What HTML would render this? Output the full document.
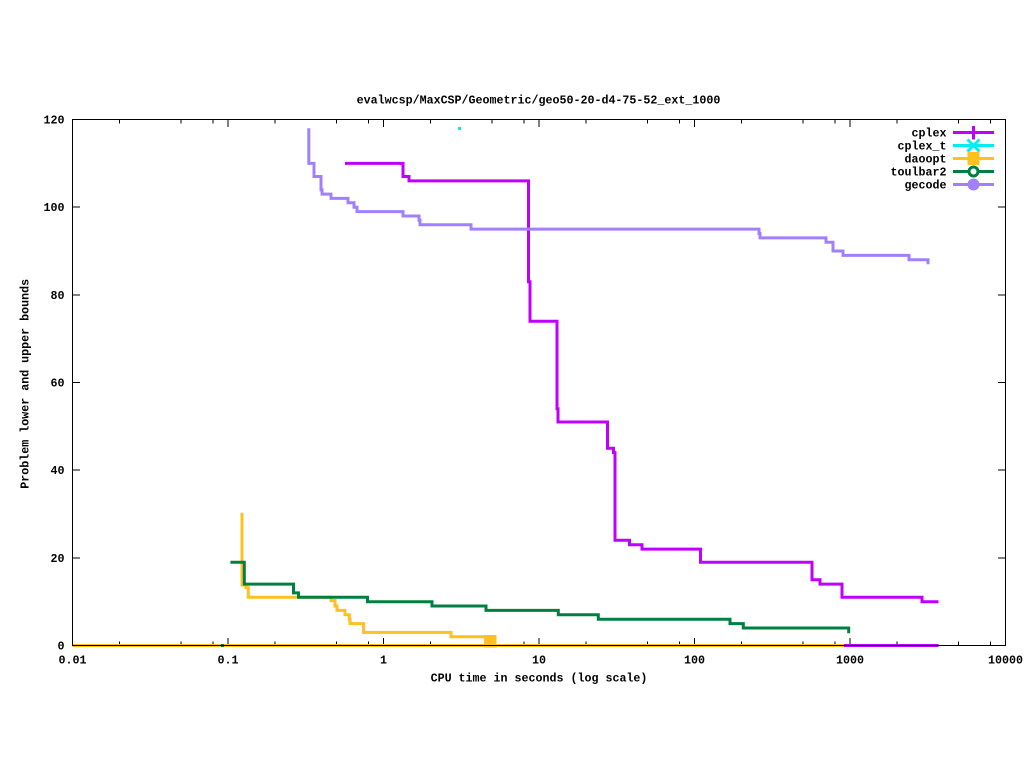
<!DOCTYPE html>
<html>
<head>
<meta charset="utf-8">
<style>
html,body{margin:0;padding:0;background:#fff;}
svg{display:block;}
text{font-family:"Liberation Mono","DejaVu Sans Mono",monospace;font-weight:bold;font-size:11.67px;fill:#000;}
</style>
</head>
<body>
<svg width="1024" height="768" viewBox="0 0 1024 768" xmlns="http://www.w3.org/2000/svg">
<rect x="0" y="0" width="1024" height="768" fill="#fff"/>

<!-- title -->
<text x="538.5" y="103.5" text-anchor="middle">evalwcsp/MaxCSP/Geometric/geo50-20-d4-75-52_ext_1000</text>

<!-- axes labels -->
<text x="539" y="681.5" text-anchor="middle">CPU time in seconds (log scale)</text>
<text transform="translate(28.5,383.8) rotate(-90)" x="0" y="0" text-anchor="middle">Problem lower and upper bounds</text>

<!-- y tick labels -->
<g text-anchor="end">
<text x="64.5" y="649.5">0</text>
<text x="64.5" y="561.8">20</text>
<text x="64.5" y="474.2">40</text>
<text x="64.5" y="386.5">60</text>
<text x="64.5" y="298.9">80</text>
<text x="64.5" y="211.2">100</text>
<text x="64.5" y="123.5">120</text>
</g>

<!-- x tick labels -->
<g text-anchor="middle">
<text x="72.5" y="663.5">0.01</text>
<text x="228" y="663.5">0.1</text>
<text x="383.5" y="663.5">1</text>
<text x="539" y="663.5">10</text>
<text x="694.5" y="663.5">100</text>
<text x="850" y="663.5">1000</text>
<text x="1005.5" y="663.5">10000</text>
</g>

<!-- ticks -->
<g stroke="#000" stroke-width="1" shape-rendering="crispEdges" fill="none">
<!-- y major left/right -->
<path d="M72.5,645.5h7.5M72.5,557.8h7.5M72.5,470.2h7.5M72.5,382.5h7.5M72.5,294.9h7.5M72.5,207.2h7.5M72.5,119.5h7.5"/>
<path d="M1005.5,645.5h-7.5M1005.5,557.8h-7.5M1005.5,470.2h-7.5M1005.5,382.5h-7.5M1005.5,294.9h-7.5M1005.5,207.2h-7.5M1005.5,119.5h-7.5"/>
<!-- x major bottom/top -->
<path d="M72.5,645.5v-7.5M228,645.5v-7.5M383.5,645.5v-7.5M539,645.5v-7.5M694.5,645.5v-7.5M850,645.5v-7.5M1005.5,645.5v-7.5"/>
<path d="M72.5,119.5v7.5M228,119.5v7.5M383.5,119.5v7.5M539,119.5v7.5M694.5,119.5v7.5M850,119.5v7.5M1005.5,119.5v7.5"/>
<!-- x minor (2,5,8) bottom -->
<path d="M119.3,645.5v-4M181.2,645.5v-4M212.9,645.5v-4
M274.8,645.5v-4M336.7,645.5v-4M368.4,645.5v-4
M430.3,645.5v-4M492.2,645.5v-4M523.9,645.5v-4
M585.8,645.5v-4M647.7,645.5v-4M679.4,645.5v-4
M741.3,645.5v-4M803.2,645.5v-4M834.9,645.5v-4
M896.8,645.5v-4M958.7,645.5v-4M990.4,645.5v-4"/>
<!-- x minor top -->
<path d="M119.3,119.5v4M181.2,119.5v4M212.9,119.5v4
M274.8,119.5v4M336.7,119.5v4M368.4,119.5v4
M430.3,119.5v4M492.2,119.5v4M523.9,119.5v4
M585.8,119.5v4M647.7,119.5v4M679.4,119.5v4
M741.3,119.5v4M803.2,119.5v4M834.9,119.5v4
M896.8,119.5v4M958.7,119.5v4M990.4,119.5v4"/>
</g>

<!-- series -->
<g fill="none" stroke-width="3" stroke-linejoin="miter" stroke-linecap="butt">
<!-- cplex -->
<path stroke="#c000ff" d="M345,163.4H403V176.5H409V180.9H528.5V281.7H530V321.2H557V408.8H558V422H607.5V448.3H613.5V452.6H615V540.3H629.5V544.7H642V549.1H700.5V562.2H812V579.8H820V584.1H842V597.3H922V601.7H938.5"/>
<!-- cplex_t point -->
<rect x="458" y="127" width="3" height="3" fill="#00eeee" stroke="none"/>
<!-- daoopt -->
<path stroke="#ffc020" d="M242,512.7V585H246V587.5H248.3V597.3H331V600.5H335V606H337V610.4H345V614.8H349.3V619.2H350V623.6H363.5V632.4H451V636.7H490V641"/>
<path stroke="#ffc020" d="M72.5,645.5H845"/>
<rect x="484" y="635" width="12.5" height="12.5" fill="#ffc020" stroke="none"/>
<!-- cplex lower -->
<path stroke="#c000ff" d="M844,645.5H938.5"/>
<!-- toulbar2 -->
<path stroke="#008040" d="M230.4,562.2H244.3V584.1H293.5V592.9H298.5V597.3H367.5V601.7H432V606H486V610.4H558.3V614.8H598.3V619.2H730V623.6H743.3V628H848.7V633.3"/>
<rect x="221" y="644" width="3" height="3" fill="#008040" stroke="none"/>
<!-- gecode -->
<path stroke="#a080ff" d="M308.8,128.3V163.4H314V176.5H321V189.7H322V194.1H331V198.4H348V202.8H354V207.2H357V211.6H403V216H419V220.3H420V224.7H471V229.1H759V233.5H760V237.9H826V242.3H833V251H843V255.4H909V259.8H928V264.2"/>
</g>

<!-- border -->
<rect x="72.5" y="119.5" width="933" height="526" fill="none" stroke="#000" stroke-width="1" shape-rendering="crispEdges"/>

<!-- legend -->
<g text-anchor="end">
<text x="946.5" y="136.7">cplex</text>
<text x="946.5" y="149.7">cplex_t</text>
<text x="946.5" y="162.7">daoopt</text>
<text x="946.5" y="175.7">toulbar2</text>
<text x="946.5" y="188.7">gecode</text>
</g>
<g stroke-width="3" fill="none">
<path stroke="#c000ff" d="M953,132.5H994M973.5,126V139.5"/>
<path stroke="#00eeee" d="M953,145.5H994M967.5,139.5L979.5,151.5M979.5,139.5L967.5,151.5"/>
<path stroke="#ffc020" d="M953,158.5H994"/>
<rect x="967.5" y="152" width="12" height="13" fill="#ffc020" stroke="none"/>
<path stroke="#008040" d="M953,171.5H994"/>
<circle cx="973.5" cy="171.5" r="4.5" stroke="#008040" fill="#fff"/>
<path stroke="#a080ff" d="M953,184.5H994"/>
<circle cx="973.5" cy="184.5" r="6" fill="#a080ff" stroke="none"/>
</g>
</svg>
</body>
</html>
